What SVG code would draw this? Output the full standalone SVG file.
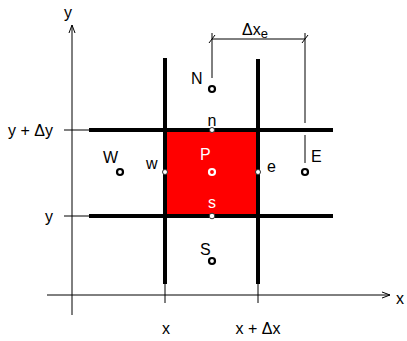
<svg xmlns="http://www.w3.org/2000/svg" width="407" height="341" viewBox="0 0 407 341">
<style>
.thin{stroke:#000;stroke-width:1;fill:none}
.thick{stroke:#000;stroke-width:4;fill:none}
.lbl{font-family:"Liberation Sans",Arial,sans-serif;font-size:16px;fill:#000}
.sm{font-family:"Liberation Sans",Arial,sans-serif;font-size:13px;fill:#000}
.big{fill:#fff;stroke:#000;stroke-width:2.2}
.face{fill:#fff;stroke:#333;stroke-width:1}
</style>
<rect width="407" height="341" fill="#fff"/>
<g id="cell-P-area">
<rect x="165" y="130" width="93" height="86" fill="#ff0000"/>
</g>
<g id="connectors">
<line class="thin" x1="72" y1="25" x2="72" y2="315"/>
<polyline class="thin" points="69,33 72,25 75,33"/>
<line class="thin" x1="47" y1="295" x2="390" y2="295"/>
<polyline class="thin" points="382,292 390,295 382,298"/>
<line class="thin" x1="64" y1="130" x2="89" y2="130"/>
<line class="thin" x1="64" y1="216" x2="89" y2="216"/>
<line class="thin" x1="165" y1="283" x2="165" y2="303"/>
<line class="thin" x1="258" y1="283" x2="258" y2="303"/>
<line class="thick" x1="165" y1="58" x2="165" y2="284"/>
<line class="thick" x1="258" y1="59" x2="258" y2="284"/>
<line class="thick" x1="89" y1="130" x2="333" y2="130"/>
<line class="thick" x1="89" y1="216" x2="333" y2="216"/>
<line class="thin" x1="212" y1="39" x2="305" y2="39"/>
<line class="thin" x1="212" y1="33" x2="212" y2="78"/>
<line class="thin" x1="305" y1="33" x2="305" y2="123"/>
<line class="thin" x1="305" y1="135" x2="305" y2="163"/>
<line class="thin" x1="209" y1="43" x2="215" y2="35"/>
<line class="thin" x1="302" y1="43" x2="308" y2="35"/>
</g>
<g id="node-N">
<text class="lbl" x="191" y="84">N</text>
<circle class="big" cx="212" cy="89" r="3"/>
</g>
<g id="node-n">
<text class="lbl" x="212" y="126" text-anchor="middle">n</text>
<circle class="face" cx="212" cy="130" r="2.5"/>
</g>
<g id="node-P">
<text class="lbl" x="200" y="160" style="fill:#fff">P</text>
<circle cx="212" cy="172" r="3" fill="none" stroke="#fff" stroke-width="2.2"/>
</g>
<g id="node-s">
<text class="lbl" x="212" y="208" text-anchor="middle" style="fill:#fff">s</text>
<circle class="face" cx="212" cy="216" r="2.8"/>
</g>
<g id="node-S">
<text class="lbl" x="200" y="255">S</text>
<circle class="big" cx="212" cy="261" r="3"/>
</g>
<g id="node-W">
<text class="lbl" x="103" y="163">W</text>
<circle class="big" cx="120" cy="172" r="3"/>
</g>
<g id="node-w">
<text class="lbl" x="146" y="169">w</text>
<circle class="face" cx="165" cy="172" r="2.5"/>
</g>
<g id="node-e">
<text class="lbl" x="267" y="172">e</text>
<circle class="face" cx="258" cy="172" r="2.5"/>
</g>
<g id="node-E">
<text class="lbl" x="311" y="162">E</text>
<circle class="big" cx="305" cy="172" r="3"/>
</g>
<g id="labels">
<text class="lbl" x="68" y="18" text-anchor="middle">y</text>
<text class="lbl" x="396" y="304">x</text>
<text class="lbl" x="8" y="136">y + Δy</text>
<text class="lbl" x="45" y="222">y</text>
<text class="lbl" x="166" y="334" text-anchor="middle">x</text>
<text class="lbl" x="258" y="334" text-anchor="middle">x + Δx</text>
<text class="lbl" x="242" y="35">Δx<tspan class="sm" dy="3">e</tspan></text>
</g>
</svg>
